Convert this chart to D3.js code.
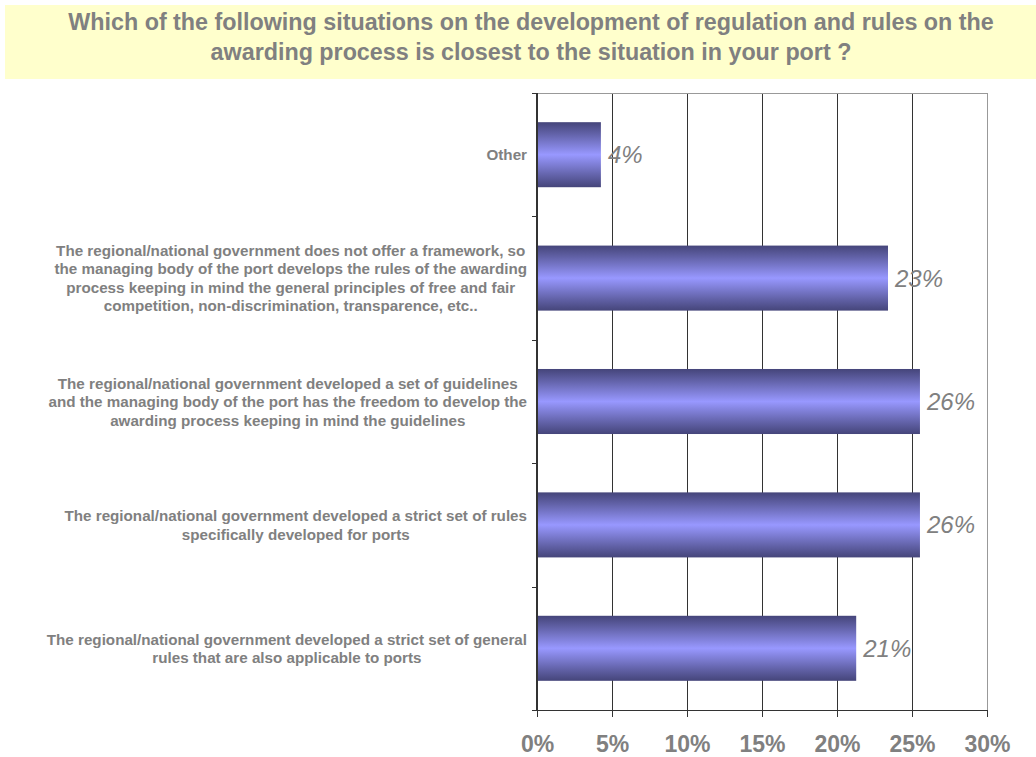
<!DOCTYPE html>
<html>
<head>
<meta charset="utf-8">
<script src="https://cdn.jsdelivr.net/npm/d3@7"></script>
<style>
  html, body { margin: 0; padding: 0; background: #ffffff; }
  svg { display: block; }
</style>
</head>
<body>
<svg id="chart" width="1036" height="757"></svg>
<script>
// Survey answers (share of respondents, %), listed top to bottom
const categories = [
  ["Other"],
  ["The regional/national government does not offer a framework, so",
   "the managing body of the port develops the rules of the awarding",
   "process keeping in mind the general principles of free and fair",
   "competition, non-discrimination, transparence, etc.."],
  ["The regional/national government developed a set of guidelines",
   "and the managing body of the port has the freedom to develop the",
   "awarding process keeping in mind the guidelines"],
  ["The regional/national government developed a strict set of rules",
   "specifically developed for ports"],
  ["The regional/national government developed a strict set of general",
   "rules that are also applicable to ports"]
];
const values = [4.26, 23.40, 25.53, 25.53, 21.28];
const xTicks = [0, 5, 10, 15, 20, 25, 30];
const titleLines = [
  "Which of the following situations on the development of regulation and rules on the",
  "awarding process is closest to the situation in your port ?"
];

const svg = d3.select("#chart");
const grey = "#808080";
const font = "'Liberation Sans', Arial, Helvetica, sans-serif";

// Title banner
svg.append("rect")
  .attr("x", 5).attr("y", 5).attr("width", 1031).attr("height", 74)
  .attr("fill", "#FFFFCC");
svg.append("g").selectAll("text").data(titleLines).join("text")
  .attr("x", 531)
  .attr("y", (d, i) => 30 + i * 30)
  .attr("text-anchor", "middle")
  .attr("font-family", font)
  .attr("font-weight", "bold")
  .attr("font-size", 23.3)
  .attr("fill", grey)
  .text(d => d);

// Plot area
const plotL = 537, plotR = 987, plotT = 93, plotB = 710;
const x = d3.scaleLinear().domain([0, 30]).range([plotL, plotR]);
const y = d3.scaleBand().domain(d3.range(categories.length))
  .range([plotT, plotB]).paddingInner(0.473).paddingOuter(0.2365);

// Bar gradient: dark edges, light centre
const defs = svg.append("defs");
const grad = defs.append("linearGradient").attr("id", "barGrad")
  .attr("x1", 0).attr("y1", 0).attr("x2", 0).attr("y2", 1);
[[0, "#45457a"], [0.18, "#6262a8"], [0.5, "#9898ff"], [0.82, "#6262a8"], [1, "#45457a"]]
  .forEach(([o, c]) => grad.append("stop").attr("offset", o).attr("stop-color", c));

// Vertical gridlines
svg.append("g").selectAll("line").data(xTicks.slice(1)).join("line")
  .attr("x1", d => Math.round(x(d)) + 0.5).attr("x2", d => Math.round(x(d)) + 0.5)
  .attr("y1", plotT).attr("y2", plotB)
  .attr("stroke", d => d === 30 ? "#999" : "#333")
  .attr("stroke-width", 1);

// Top border of plot area
svg.append("line")
  .attr("x1", plotL - 4).attr("x2", plotR).attr("y1", plotT + 0.5).attr("y2", plotT + 0.5)
  .attr("stroke", "#999").attr("stroke-width", 1);

// Bars
svg.append("g").selectAll("rect").data(values).join("rect")
  .attr("x", x(0))
  .attr("y", (d, i) => y(i))
  .attr("width", d => x(d) - x(0))
  .attr("height", y.bandwidth())
  .attr("fill", "url(#barGrad)");

// Value labels
svg.append("g").selectAll("text").data(values).join("text")
  .attr("x", d => x(d) + 7)
  .attr("y", (d, i) => y(i) + y.bandwidth() / 2 + 8.5)
  .attr("font-family", font)
  .attr("font-style", "italic")
  .attr("font-size", 24)
  .attr("fill", grey)
  .text(d => Math.round(d) + "%");

// Category axis (left) with ticks at band boundaries
const step = y.step();
const boundaries = d3.range(categories.length + 1).map(i => plotT + i * step);
svg.append("line")
  .attr("x1", plotL).attr("x2", plotL).attr("y1", plotT).attr("y2", plotB)
  .attr("stroke", "#333").attr("stroke-width", 2);
svg.append("g").selectAll("line").data(boundaries).join("line")
  .attr("x1", plotL - 5).attr("x2", plotL)
  .attr("y1", d => Math.round(d) + 0.5).attr("y2", d => Math.round(d) + 0.5)
  .attr("stroke", "#333");

// Value axis (bottom)
const xAxis = svg.append("g")
  .attr("transform", `translate(0,${plotB})`)
  .call(d3.axisBottom(x).tickValues(xTicks).tickSize(7).tickPadding(19)
    .tickFormat(d => d + "%"));
xAxis.select(".domain").remove();
xAxis.append("line")
  .attr("x1", plotL - 5).attr("x2", plotR).attr("y1", 0.5).attr("y2", 0.5)
  .attr("stroke", "#333");
xAxis.selectAll(".tick line").attr("stroke", "#333");
xAxis.selectAll(".tick text")
  .attr("font-family", font)
  .attr("font-weight", "bold")
  .attr("font-size", 23)
  .attr("fill", grey)
  .attr("dy", "0.71em");

// Category labels: lines centred within their block, block right-aligned to the axis
const lineH = 18.5;
const labelG = svg.append("g");
categories.forEach((lines, i) => {
  const g = labelG.append("g");
  const cy = y(i) + y.bandwidth() / 2;
  const texts = g.selectAll("text").data(lines).join("text")
    .attr("font-family", font)
    .attr("font-weight", "bold")
    .attr("font-size", 15.2)
    .attr("fill", grey)
    .attr("text-anchor", "middle")
    .attr("y", (d, j) => cy + (j - (lines.length - 1) / 2) * lineH + 5.5)
    .text(d => d);
  let maxW = 0;
  texts.each(function () { maxW = Math.max(maxW, this.getComputedTextLength()); });
  texts.attr("x", 527 - maxW / 2);
});
</script>
</body>
</html>
